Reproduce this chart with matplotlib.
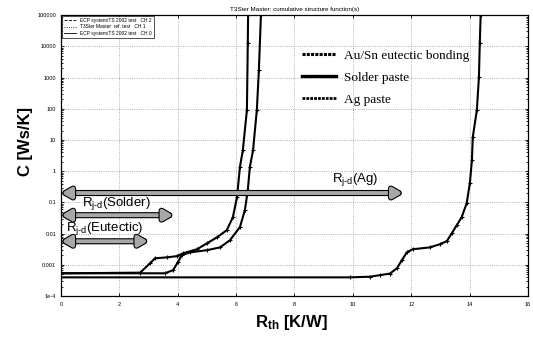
import numpy as np
import matplotlib.pyplot as plt
import matplotlib.patheffects as pe
from matplotlib.lines import Line2D

plt.rcParams['font.family'] = ['Liberation Sans', 'DejaVu Sans']
plt.rcParams['mathtext.fontset'] = 'custom'
plt.rcParams['mathtext.rm'] = 'Liberation Sans'
plt.rcParams['mathtext.it'] = 'Liberation Sans:italic'
plt.rcParams['mathtext.bf'] = 'Liberation Sans:bold'
plt.rcParams['mathtext.default'] = 'regular'

# cumulative structure functions: R_th [K/W], log10(C [Ws/K])
eut_r = [0, 2.71, 3.05, 3.22, 3.63, 3.97, 4.18, 4.66, 5.0, 5.34, 5.68, 5.89, 6.03, 6.13, 6.23, 6.37, 6.40, 6.41]
eut_logc = [-3.27, -3.25, -2.95, -2.79, -2.76, -2.72, -2.63, -2.50, -2.31, -2.12, -1.89, -1.47, -0.83, 0.13, 0.67, 1.96, 4.10, 5.0]

sol_r = [0, 3.56, 3.84, 4.0, 4.14, 4.42, 5.0, 5.45, 5.79, 6.13, 6.30, 6.40, 6.47, 6.58, 6.71, 6.78, 6.85]
sol_logc = [-3.27, -3.27, -3.17, -2.92, -2.69, -2.60, -2.53, -2.44, -2.21, -1.79, -1.25, -0.61, 0.13, 0.67, 1.96, 3.24, 5.0]

ag_r = [0, 9.9, 10.58, 10.92, 11.27, 11.51, 11.68, 11.85, 12.05, 12.64, 12.98, 13.22, 13.39, 13.56,
        13.73, 13.90, 14.01, 14.08, 14.11, 14.25, 14.32, 14.35, 14.38]
ag_logc = [-3.40, -3.40, -3.38, -3.33, -3.28, -3.11, -2.85, -2.60, -2.50, -2.44, -2.34, -2.24, -1.99, -1.73,
           -1.47, -1.03, -0.38, 0.35, 1.09, 1.96, 3.01, 4.10, 5.0]

# junction-to-die resistance arrows: (label, R end, C level, label x, label C)
arrow_labels = ['Ag', 'Solder', 'Eutectic']
arrow_end = [11.7, 3.84, 2.98]
arrow_c = [0.2, 0.039, 0.0057]
label_x = [9.3, 0.72, 0.17]
label_c = [0.55, 0.095, 0.015]

yticks = [1e-4, 1e-3, 1e-2, 1e-1, 1, 10, 100, 1000, 10000, 100000]
ytick_labels = ['1e-4', '0.001', '0.01', '0.1', '1', '10', '100', '1000', '10000', '100000']
xticks = list(range(0, 17, 2))

fig = plt.figure(figsize=(5.33, 3.38), dpi=100)
ax = fig.add_axes([0.1145, 0.124, 0.876, 0.8314])

curves = [(eut_r, eut_logc), (sol_r, sol_logc), (ag_r, ag_logc)]
for r, lc in curves:
    ax.plot(r, 10 ** np.array(lc), color='black', lw=1.5, marker='+', ms=3, mew=0.8)

ax.set_yscale('log')
ax.set_xlim(0, 16)
ax.set_ylim(1e-4, 1e5)
ax.set_xticks(xticks)
ax.set_xticklabels([str(v) for v in xticks])
ax.set_yticks(yticks)
ax.set_yticklabels(ytick_labels)
ax.tick_params(axis='both', which='both', direction='in', top=True, right=True, labelsize=4, length=2, width=0.6)
ax.tick_params(axis='x', pad=4)
ax.tick_params(axis='y', which='minor', length=1.5)
ax.grid(True, which='major', ls=':', lw=0.6, color='#999999')
for s in ax.spines.values():
    s.set_linewidth(0.9)

for name, xe, yc, lx, lc in zip(arrow_labels, arrow_end, arrow_c, label_x, label_c):
    ax.annotate('', xy=(xe, yc), xytext=(0.02, yc),
                arrowprops=dict(arrowstyle='<|-|>,head_length=0.55,head_width=0.32', lw=2.8,
                                color='#a8a8a8', shrinkA=0, shrinkB=0,
                                path_effects=[pe.withStroke(linewidth=4.4, foreground='black')]))
    ax.text(lx, lc, r'R$_{j\text{-}d}$(' + name + ')', fontsize=9.5, va='center', ha='left')

fig.text(0.546, 0.045, r'R$_{th}$ [K/W]', fontsize=12, fontweight='bold', ha='center', va='center')
fig.text(0.047, 0.58, 'C [Ws/K]', fontsize=12, fontweight='bold', ha='center', va='center', rotation=90)
ax.set_title('T3Ster Master: cumulative structure function(s)', fontsize=4.5, pad=3)

# small measurement legend in the corner
small = [Line2D([], [], color='black', lw=0.6, ls='--'),
         Line2D([], [], color='black', lw=0.6, ls=':'),
         Line2D([], [], color='black', lw=0.6)]
leg1 = ax.legend(small, ['ECP system/TS 2002 test   CH 2', 'T3Ster Master  ref. test   CH 1',
                         'ECP system/TS 2002 test   CH 0'],
                 loc='upper left', fontsize=3.5, frameon=True, fancybox=False, edgecolor='black',
                 borderpad=0.4, handlelength=2.5, labelspacing=0.3, borderaxespad=0.2)
leg1.get_frame().set_linewidth(0.6)
ax.add_artist(leg1)

big = [Line2D([], [], color='black', lw=2.2, ls=(0, (1, 0.4))),
       Line2D([], [], color='black', lw=2.4),
       Line2D([], [], color='black', lw=2.0, ls=(0, (1, 0.4)))]
ax.legend(big, ['Au/Sn eutectic bonding', 'Solder paste', 'Ag paste'], loc='upper left',
          bbox_to_anchor=(0.49, 0.92), frameon=False, prop={'family': 'Liberation Serif', 'size': 9.5},
          handlelength=2.6, labelspacing=0.75, handletextpad=0.6)

fig.savefig('out.png', dpi=100)
